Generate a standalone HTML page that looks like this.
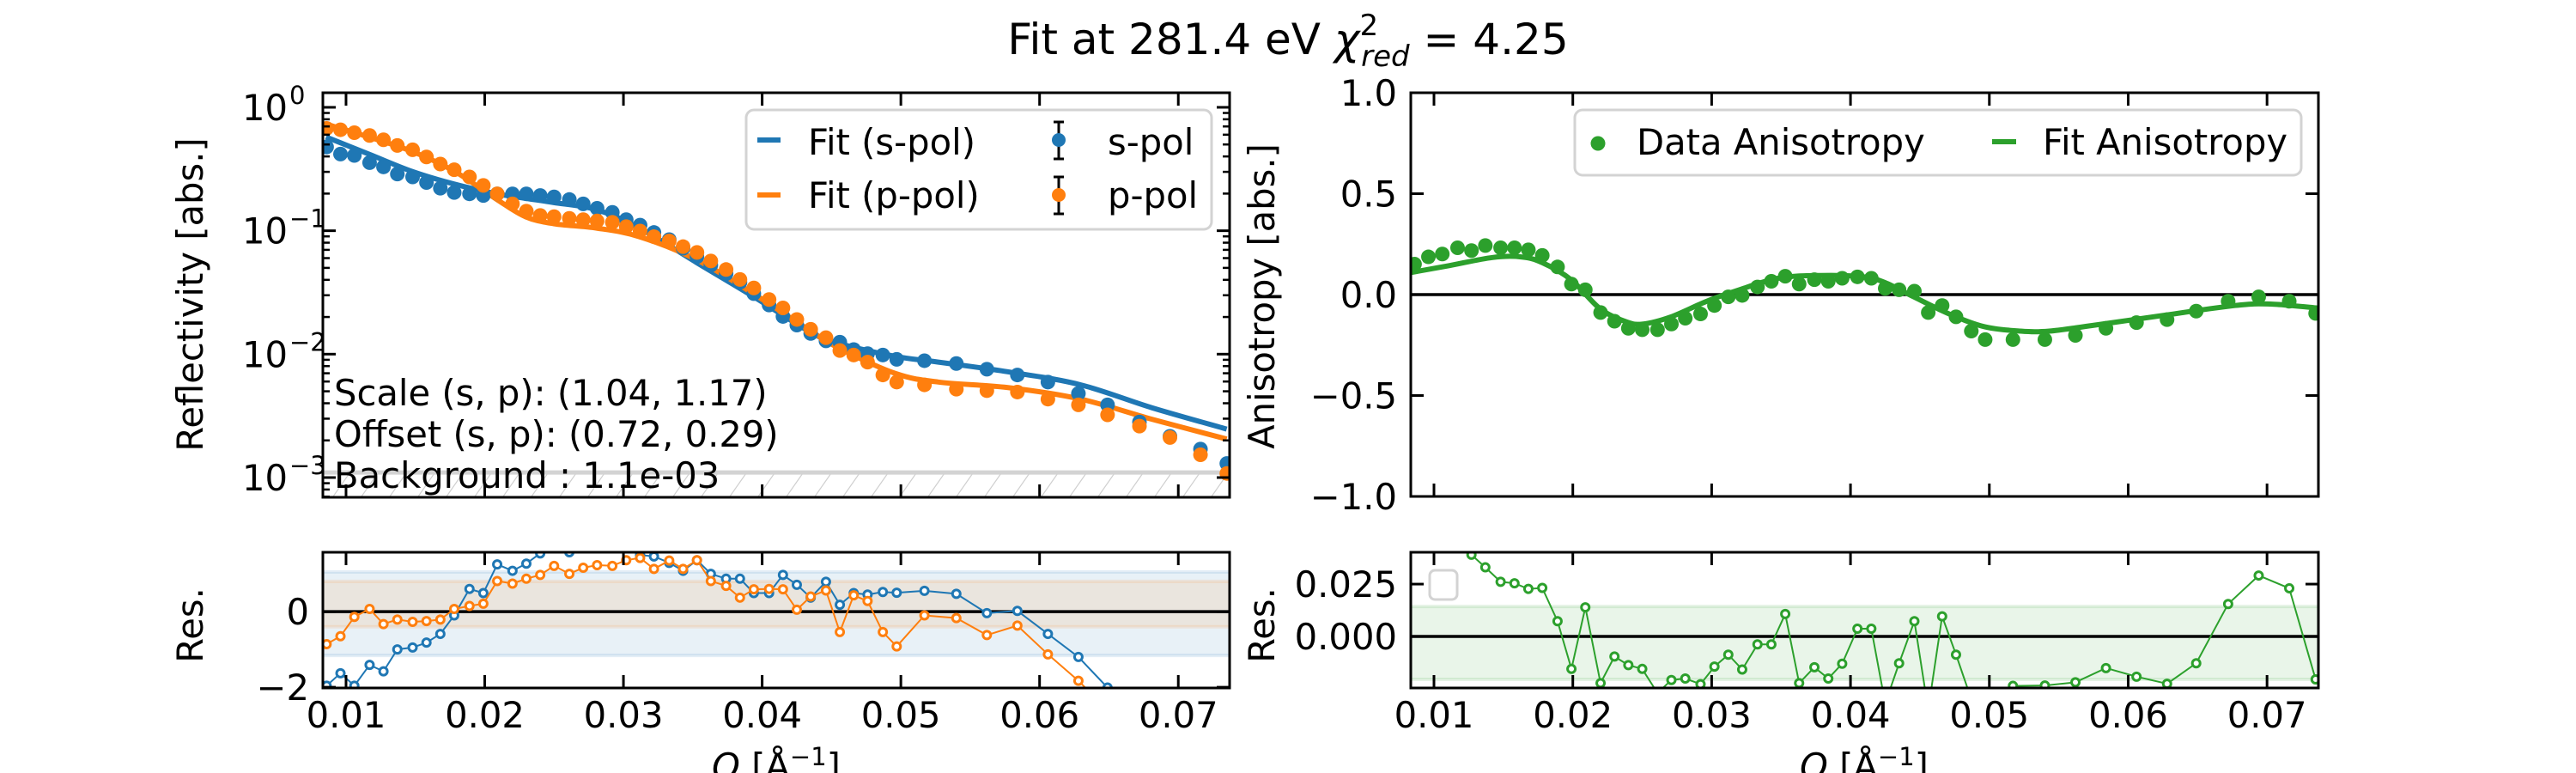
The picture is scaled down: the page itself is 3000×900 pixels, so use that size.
<!DOCTYPE html>
<html><head><meta charset="utf-8"><style>
html,body{margin:0;padding:0;background:#fff}
svg{display:block}
text{font-family:"DejaVu Sans","Liberation Sans",sans-serif;fill:#000}
</style></head><body>
<svg id="fig" xmlns="http://www.w3.org/2000/svg" width="3000" height="900" viewBox="0 0 3000 900">
<defs>
<pattern id="hatch" patternUnits="userSpaceOnUse" width="33" height="33" patternTransform="skewX(-35)">
<line x1="0" y1="0" x2="0" y2="33" stroke="#d0d0d0" stroke-width="3"/>
</pattern>
<clipPath id="cTL"><rect x="376" y="108" width="1056" height="471"/></clipPath>
<clipPath id="cBL"><rect x="376" y="643" width="1056" height="158"/></clipPath>
<clipPath id="cTR"><rect x="1643" y="108" width="1057" height="470"/></clipPath>
<clipPath id="cBR"><rect x="1643" y="643" width="1057" height="158"/></clipPath>
</defs>
<text x="1500" y="63" font-size="50" text-anchor="middle">Fit at 281.4 eV <tspan font-style="italic">χ</tspan><tspan font-size="34" dy="-22">2</tspan><tspan font-size="34" font-style="italic" dx="-20" dy="36">red</tspan><tspan dy="-14"> = 4.25</tspan></text>
<g id="layer"></g>
</svg>
<script>
// ---- data ----
const qData = [0.0086,0.0096,0.0106,0.0117,0.0127,0.0137,0.0148,0.0158,0.0168,0.0178,0.0189,0.0199,0.0209,0.0220,0.0230,0.0240,0.0250,0.0261,0.0271,0.0281,0.0292,0.0302,0.0312,0.0322,0.0333,0.0343,0.0353,0.0363,0.0374,0.0384,0.0394,0.0405,0.0415,0.0425,0.0435,0.0446,0.0456,0.0466,0.0476,0.0487,0.0497,0.0517,0.0540,0.0562,0.0584,0.0606,0.0628,0.0649,0.0672,0.0694,0.0716,0.0735];
const sPol = [0.477,0.418,0.407,0.356,0.329,0.288,0.273,0.246,0.221,0.204,0.199,0.193,0.199,0.199,0.199,0.193,0.188,0.179,0.165,0.152,0.141,0.123,0.111,0.0968,0.0847,0.0722,0.0616,0.0526,0.0448,0.0382,0.0309,0.0250,0.0202,0.0172,0.0147,0.0128,0.0125,0.0109,0.0101,0.00984,0.00908,0.00885,0.00839,0.00755,0.00678,0.00594,0.00480,0.00388,0.00282,0.00216,0.00170,0.00130];
const pPol = [0.675,0.658,0.623,0.591,0.546,0.491,0.453,0.396,0.347,0.312,0.273,0.233,0.199,0.165,0.144,0.133,0.130,0.126,0.123,0.120,0.117,0.108,0.0995,0.0895,0.0826,0.0743,0.0667,0.0569,0.0485,0.0403,0.0344,0.0277,0.0237,0.0191,0.0159,0.0136,0.0107,0.00984,0.00862,0.00678,0.00594,0.00564,0.00520,0.00506,0.00493,0.00432,0.00388,0.00322,0.00261,0.00211,0.00153,0.00108];
const qFit = [0.00856,0.01164,0.01472,0.01780,0.02088,0.02293,0.02499,0.02807,0.03115,0.03525,0.03936,0.04346,0.04552,0.04962,0.05270,0.05784,0.06297,0.06810,0.07349];
const sFit = [0.575,0.418,0.304,0.239,0.199,0.183,0.169,0.148,0.105,0.0554,0.0293,0.0151,0.0122,0.00959,0.00862,0.00716,0.00564,0.00368,0.00247];
const pFit = [0.731,0.575,0.441,0.304,0.179,0.130,0.114,0.105,0.0895,0.0584,0.0309,0.0155,0.0112,0.00697,0.00594,0.00534,0.00432,0.00297,0.00205];
const sRes = [-1.96,-1.63,-1.96,-1.41,-1.58,-1.00,-0.95,-0.82,-0.59,-0.10,0.60,0.49,1.25,1.08,1.27,1.54,1.7,1.57,1.8,1.8,1.8,1.7,1.50,1.46,1.29,1.08,1.36,1.00,0.87,0.87,0.49,0.49,0.97,0.71,0.37,0.79,0.18,0.49,0.45,0.52,0.50,0.55,0.47,-0.04,0.02,-0.59,-1.20,-2.01,-2.8,-3.5,-4,-4.5];
const pRes = [-0.86,-0.65,-0.14,0.07,-0.33,-0.21,-0.27,-0.25,-0.21,0.07,0.15,0.21,0.81,0.74,0.87,0.97,1.21,1.00,1.16,1.23,1.21,1.36,1.42,1.13,1.35,1.13,1.36,0.81,0.68,0.37,0.59,0.60,0.59,0.05,0.40,0.56,-0.54,0.43,0.28,-0.54,-0.92,-0.10,-0.17,-0.62,-0.37,-1.13,-1.83,-2.6,-3.2,-3.6,-4,-4.5];
const aniData = [0.151,0.187,0.201,0.232,0.218,0.243,0.232,0.232,0.222,0.194,0.137,0.052,0.024,-0.089,-0.132,-0.167,-0.174,-0.174,-0.146,-0.117,-0.096,-0.054,-0.011,-0.004,0.038,0.066,0.091,0.052,0.074,0.066,0.081,0.088,0.081,0.031,0.024,0.017,-0.089,-0.054,-0.110,-0.181,-0.223,-0.223,-0.223,-0.202,-0.167,-0.139,-0.124,-0.082,-0.033,-0.011,-0.033,-0.093];
const qAniFit = [0.00830,0.01113,0.01422,0.01627,0.01781,0.01987,0.02193,0.02373,0.02501,0.02707,0.02964,0.03170,0.03478,0.03787,0.04095,0.04249,0.04455,0.04712,0.04969,0.05226,0.05432,0.05740,0.06254,0.06769,0.07026,0.07386];
const aniFit = [0.109,0.144,0.184,0.187,0.158,0.074,-0.068,-0.132,-0.146,-0.110,-0.033,0.017,0.081,0.095,0.088,0.059,-0.011,-0.096,-0.160,-0.181,-0.181,-0.153,-0.103,-0.054,-0.047,-0.068];
const aniRes = [0.055,0.05,0.046,0.043,0.039,0.033,0.0261,0.0254,0.0227,0.0232,0.0073,-0.0155,0.0139,-0.0223,-0.0096,-0.0137,-0.0155,-0.027,-0.0208,-0.0201,-0.0228,-0.0144,-0.0087,-0.0158,-0.0038,-0.0038,0.0107,-0.0223,-0.0147,-0.0201,-0.0130,0.0037,0.0037,-0.032,-0.0128,0.0073,-0.035,0.0096,-0.0087,-0.03,-0.03,-0.0236,-0.0234,-0.0219,-0.0151,-0.0192,-0.0226,-0.0128,0.0155,0.0291,0.0230,-0.0205];
const xTicks = [0.01,0.02,0.03,0.04,0.05,0.06,0.07];
const xTickLabels = ["0.01","0.02","0.03","0.04","0.05","0.06","0.07"];
const anisoTicks = [-1,-0.5,0,0.5,1];
const anisoTickLabels = ["\u22121.0","\u22120.5","0.0","0.5","1.0"];
const resTicksL = [-2,0];
const resTickLabelsL = ["\u22122","0"];
const resTicksR = [0,0.025];
const resTickLabelsR = ["0.000","0.025"];
const logTicks = [-3,-2,-1,0];
const backgroundLevel = 1.1e-3;
const bandS = [-1.16,1.05], bandP = [-0.4,0.8], bandA = [-0.0205,0.0143];

// ---- helpers ----
const NS="http://www.w3.org/2000/svg";
const layer=document.getElementById('layer');
function mk(tag,attrs,parent){const e=document.createElementNS(NS,tag);for(const k in attrs)e.setAttribute(k,attrs[k]);(parent||layer).appendChild(e);return e;}
function lin(d0,d1,r0,r1){return v=>r0+(v-d0)/(d1-d0)*(r1-r0);}
const XD=[0.00833,0.0737];
const xL=lin(XD[0],XD[1],376,1432), xR=lin(XD[0],XD[1],1643,2700);
const yTLlog=lin(-3.16,0.118,579,108), yTL=v=>yTLlog(Math.log10(v));
const yBL=lin(-2.02,1.57,801,643);
const yTR=lin(-1,1,578,108);
const yBR=lin(-0.0246,0.0402,801,643);
const C={b:'#1f77b4',o:'#ff7f0e',g:'#2ca02c'};

function pathD(xs,ys,fx,fy){return xs.map((q,i)=>(i?'L':'M')+fx(q).toFixed(1)+','+fy(ys[i]).toFixed(1)).join(' ');}
function smoothD(xs,ys,fx,fy){
  const P=xs.map((q,i)=>[fx(q),fy(ys[i])]);
  let d='M'+P[0][0].toFixed(1)+','+P[0][1].toFixed(1);
  for(let i=0;i<P.length-1;i++){
    const p0=P[Math.max(0,i-1)],p1=P[i],p2=P[i+1],p3=P[Math.min(P.length-1,i+2)];
    const c1=[p1[0]+(p2[0]-p0[0])/6,p1[1]+(p2[1]-p0[1])/6];
    const c2=[p2[0]-(p3[0]-p1[0])/6,p2[1]-(p3[1]-p1[1])/6];
    d+=` C${c1[0].toFixed(1)},${c1[1].toFixed(1)} ${c2[0].toFixed(1)},${c2[1].toFixed(1)} ${p2[0].toFixed(1)},${p2[1].toFixed(1)}`;
  }
  return d;
}

function frame(x0,y0,x1,y1,name){
  const f=mk('rect',{x:x0,y:y0,width:x1-x0,height:y1-y0,fill:'none',stroke:'#000','stroke-width':3});
  
  
}
function xticks(fx,y0,y1,labels,name){
  const g=mk('g',{});
  
  
  xTicks.forEach((t,i)=>{const x=fx(t);
    mk('line',{x1:x,x2:x,y1:y0,y2:y0+15,stroke:'#000','stroke-width':3},g);
    mk('line',{x1:x,x2:x,y1:y1,y2:y1-15,stroke:'#000','stroke-width':3},g);
    if(labels){const tx=mk('text',{x:x,y:847,'font-size':41.7,'text-anchor':'middle'},g);tx.textContent=xTickLabels[i];}
  });
}
function yticks(ticks,labels,fy,x0,x1,lx,name){
  const g=mk('g',{});
  
  
  ticks.forEach((t,i)=>{const y=fy(t);
    mk('line',{x1:x0,x2:x0+15,y1:y,y2:y,stroke:'#000','stroke-width':3},g);
    mk('line',{x1:x1,x2:x1-15,y1:y,y2:y,stroke:'#000','stroke-width':3},g);
    const tx=mk('text',{x:lx,y:y+15,'font-size':41.7,'text-anchor':'end'},g);tx.textContent=labels[i];
  });
}
function ylabel(txt,x,y,name){
  const t=mk('text',{x:x,y:y,'font-size':41.7,'text-anchor':'middle',transform:`rotate(-90 ${x} ${y})`});
  t.textContent=txt;
  
  
}

// ===== Top-left reflectivity =====
{
  const g=mk('g',{'clip-path':'url(#cTL)'});
  
  
  const yb=yTL(backgroundLevel);
  const bg=mk('rect',{x:376,y:yb,width:1056,height:579-yb,fill:'url(#hatch)'},g);
  
  
  mk('line',{x1:376,x2:1432,y1:yb,y2:yb,stroke:'#d3d3d3','stroke-width':5},g);
  const sf=mk('path',{d:smoothD(qFit,sFit,xL,yTL),fill:'none',stroke:C.b,'stroke-width':6,'stroke-linejoin':'round'},g);
  
  
  const pf=mk('path',{d:smoothD(qFit,pFit,xL,yTL),fill:'none',stroke:C.o,'stroke-width':6,'stroke-linejoin':'round'},g);
  
  
  qData.forEach((q,i)=>{
    const c=mk('circle',{cx:xL(q),cy:yTL(sPol[i]),r:8.5,fill:C.b},g);
    
    
  });
  qData.forEach((q,i)=>{
    const c=mk('circle',{cx:xL(q),cy:yTL(pPol[i]),r:8.5,fill:C.o},g);
    
    
  });
  frame(376,108,1432,579,'reflectivity');
  xticks(xL,108,579,false,'reflectivity');
  const yg=mk('g',{});
  
  
  logTicks.forEach(e=>{const y=yTLlog(e);
    mk('line',{x1:376,x2:391,y1:y,y2:y,stroke:'#000','stroke-width':3},yg);
    mk('line',{x1:1432,x2:1417,y1:y,y2:y,stroke:'#000','stroke-width':3},yg);
    const t=mk('text',{x:335,y:y+15,'font-size':41.7,'text-anchor':'end'},yg);t.textContent='10';
    const s=mk('text',{x:337,y:y-4,'font-size':29,'text-anchor':'start'},yg);s.textContent=e<0?'\u2212'+(-e):String(e);
    for(let m=2;m<10;m++){const lm=e+Math.log10(m);if(lm>0.118)break;const ym=yTLlog(lm);
      mk('line',{x1:376,x2:384,y1:ym,y2:ym,stroke:'#000','stroke-width':2.5},yg);
      mk('line',{x1:1432,x2:1424,y1:ym,y2:ym,stroke:'#000','stroke-width':2.5},yg);}
    if(e===-3){for(let m=7;m<10;m++){const ym=yTLlog(-4+Math.log10(m));if(ym<579){mk('line',{x1:376,x2:384,y1:ym,y2:ym,stroke:'#000','stroke-width':2.5},yg);}}}
  });
  ylabel('Reflectivity [abs.]',236,343,'reflectivity-y-axis-title');
  const ann=[['Scale (s, p): (1.04, 1.17)',472,'scale-annotation'],['Offset (s, p): (0.72, 0.29)',520,'offset-annotation'],['Background : 1.1e-03',568,'background-annotation']];
  ann.forEach(a=>{const t=mk('text',{x:389,y:a[1],'font-size':41.7});t.textContent=a[0];
    
    });
  const lg=mk('g',{});
  
  
  mk('rect',{x:869,y:128,width:542,height:139,rx:9,fill:'#fff','fill-opacity':0.8,stroke:'#d3d3d3','stroke-width':3},lg);
  [[163,180,C.b,'Fit (s-pol)','s-pol'],[227,242,C.o,'Fit (p-pol)','p-pol']].forEach(r=>{
    const e=mk('g',{},lg);
    
    
    mk('line',{x1:882,x2:909,y1:r[0],y2:r[0],stroke:r[2],'stroke-width':6},e);
    const t1=mk('text',{x:941,y:r[1],'font-size':41.7},e);t1.textContent=r[3];
    mk('line',{x1:1233,x2:1233,y1:r[0]-21,y2:r[0]+22,stroke:'#000','stroke-width':3},e);
    mk('line',{x1:1227,x2:1239,y1:r[0]-21,y2:r[0]-21,stroke:'#000','stroke-width':3},e);
    mk('line',{x1:1227,x2:1239,y1:r[0]+22,y2:r[0]+22,stroke:'#000','stroke-width':3},e);
    mk('circle',{cx:1233,cy:r[0],r:8,fill:r[2]},e);
    const t2=mk('text',{x:1290,y:r[1],'font-size':41.7},e);t2.textContent=r[4];
  });
}

// ===== Bottom-left residuals =====
{
  const g=mk('g',{'clip-path':'url(#cBL)'});
  
  
  [[bandS,C.b,'s-pol-residual-band'],[bandP,C.o,'p-pol-residual-band']].forEach(b=>{
    const r=mk('rect',{x:376,y:yBL(b[0][1]),width:1056,height:yBL(b[0][0])-yBL(b[0][1]),fill:b[1],'fill-opacity':0.1},g);
    
    
    mk('line',{x1:376,x2:1432,y1:yBL(b[0][1]),y2:yBL(b[0][1]),stroke:b[1],'stroke-opacity':0.12,'stroke-width':4},g);
    mk('line',{x1:376,x2:1432,y1:yBL(b[0][0]),y2:yBL(b[0][0]),stroke:b[1],'stroke-opacity':0.12,'stroke-width':4},g);
  });
  mk('line',{x1:376,x2:1432,y1:yBL(0),y2:yBL(0),stroke:'#000','stroke-width':3.5},g);
  [[sRes,C.b,'s-pol-residual'],[pRes,C.o,'p-pol-residual']].forEach(s=>{
    const p=mk('path',{d:pathD(qData,s[0],xL,yBL),fill:'none',stroke:s[1],'stroke-width':2},g);
    
    
    qData.forEach((q,i)=>{const c=mk('circle',{cx:xL(q),cy:yBL(s[0][i]),r:4.5,fill:'#fff',stroke:s[1],'stroke-width':3},g);
      
      });
  });
  frame(376,643,1432,801,'reflectivity-residual');
  xticks(xL,643,801,true,'reflectivity-residual');
  yticks(resTicksL,resTickLabelsL,yBL,376,1432,360,'reflectivity-residual');
  ylabel('Res.',236,728,'reflectivity-residual-y-axis-title');
  const q=mk('text',{x:904,y:907,'font-size':41.7,'text-anchor':'middle'});
  q.innerHTML='<tspan font-style="italic">Q</tspan> [Å<tspan font-size="29" dy="-16">\u22121</tspan><tspan dy="16">]</tspan>';
  
  
}

// ===== Top-right anisotropy =====
{
  const g=mk('g',{'clip-path':'url(#cTR)'});
  
  
  mk('line',{x1:1643,x2:2700,y1:yTR(0),y2:yTR(0),stroke:'#000','stroke-width':3.5},g);
  const f=mk('path',{d:smoothD(qAniFit,aniFit,xR,yTR),fill:'none',stroke:C.g,'stroke-width':6,'stroke-linejoin':'round'},g);
  
  
  qData.forEach((q,i)=>{const c=mk('circle',{cx:xR(q),cy:yTR(aniData[i]),r:8.5,fill:C.g},g);
    
    });
  frame(1643,108,2700,578,'anisotropy');
  xticks(xR,108,578,false,'anisotropy');
  yticks(anisoTicks,anisoTickLabels,yTR,1643,2700,1627,'anisotropy');
  ylabel('Anisotropy [abs.]',1484,345,'anisotropy-y-axis-title');
  const lg=mk('g',{});
  
  
  mk('rect',{x:1834,y:128,width:846,height:76,rx:9,fill:'#fff','fill-opacity':0.8,stroke:'#d3d3d3','stroke-width':3},lg);
  mk('circle',{cx:1861,cy:167,r:8.5,fill:C.g},lg);
  const t1=mk('text',{x:1906,y:180,'font-size':41.7},lg);t1.textContent='Data Anisotropy';
  mk('line',{x1:2320,x2:2348,y1:165,y2:165,stroke:C.g,'stroke-width':6},lg);
  const t2=mk('text',{x:2379,y:180,'font-size':41.7},lg);t2.textContent='Fit Anisotropy';
}

// ===== Bottom-right residuals =====
{
  const g=mk('g',{'clip-path':'url(#cBR)'});
  
  
  const r=mk('rect',{x:1643,y:yBR(bandA[1]),width:1057,height:yBR(bandA[0])-yBR(bandA[1]),fill:C.g,'fill-opacity':0.1},g);
  
  
  mk('line',{x1:1643,x2:2700,y1:yBR(bandA[1]),y2:yBR(bandA[1]),stroke:C.g,'stroke-opacity':0.12,'stroke-width':4},g);
  mk('line',{x1:1643,x2:2700,y1:yBR(bandA[0]),y2:yBR(bandA[0]),stroke:C.g,'stroke-opacity':0.12,'stroke-width':4},g);
  mk('line',{x1:1643,x2:2700,y1:yBR(0),y2:yBR(0),stroke:'#000','stroke-width':3.5},g);
  const p=mk('path',{d:pathD(qData,aniRes,xR,yBR),fill:'none',stroke:C.g,'stroke-width':2},g);
  
  
  qData.forEach((q,i)=>{const c=mk('circle',{cx:xR(q),cy:yBR(aniRes[i]),r:4.5,fill:'#fff',stroke:C.g,'stroke-width':3},g);
    
    });
  const el=mk('rect',{x:1665,y:664,width:32,height:34,rx:6,fill:'#fff',stroke:'#d3d3d3','stroke-width':3});
  
  
  frame(1643,643,2700,801,'anisotropy-residual');
  xticks(xR,643,801,true,'anisotropy-residual');
  yticks(resTicksR,resTickLabelsR,yBR,1643,2700,1627,'anisotropy-residual');
  ylabel('Res.',1484,728,'anisotropy-residual-y-axis-title');
  const q=mk('text',{x:2171,y:907,'font-size':41.7,'text-anchor':'middle'});
  q.innerHTML='<tspan font-style="italic">Q</tspan> [Å<tspan font-size="29" dy="-16">\u22121</tspan><tspan dy="16">]</tspan>';
  
  
}
</script>
</body></html>
